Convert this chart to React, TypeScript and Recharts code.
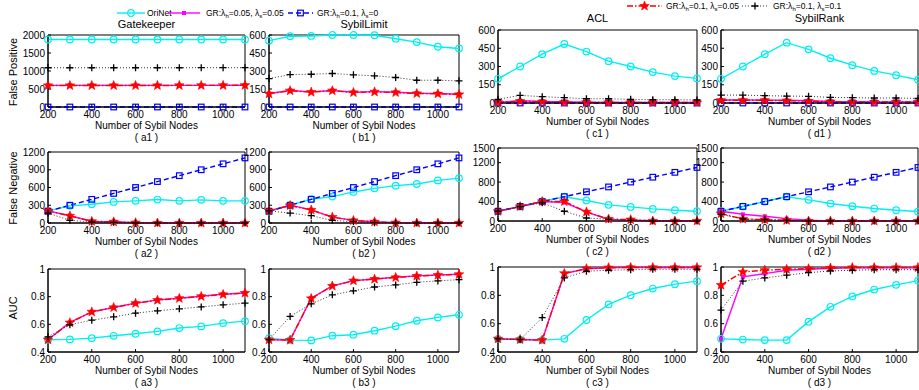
import { LineChart, Line, XAxis, YAxis, ReferenceArea } from "recharts";

const FONT = '"Liberation Sans", Arial, Helvetica, sans-serif';

// x values shared by every panel
const sybilNodes = [200, 300, 400, 500, 600, 700, 800, 900, 1000, 1100];
const xTicks = [200, 400, 600, 800, 1000];

const fpTicksGk = [0, 500, 1000, 1500, 2000];
const fpTicks = [0, 150, 300, 450, 600];
const fnTicksLeft = [0, 300, 600, 900, 1200];
const fnTicksRight = [0, 400, 800, 1200, 1500];
const aucTicks = [0.4, 0.6, 0.8, 1];

// ori = OriNet, g55 = GR λh=0.05 λs=0.05, g10 = GR λh=0.1 λs=0,
// g15 = GR λh=0.1 λs=0.05, g11 = GR λh=0.1 λs=0.1
const allSybil = [200, 300, 400, 500, 600, 700, 800, 900, 1000, 1100];
const zeros = [0, 0, 0, 0, 0, 0, 0, 0, 0, 0];

// (a1) Gatekeeper - false positive
const a1Ori = [1875, 1875, 1875, 1875, 1875, 1875, 1875, 1875, 1875, 1875];
const a1G55 = [600, 600, 600, 600, 600, 600, 602, 602, 603, 605];
const a1G15 = [598, 598, 598, 598, 598, 598, 600, 600, 601, 603];
const a1G11 = [1090, 1090, 1090, 1090, 1090, 1090, 1090, 1092, 1092, 1092];

// (b1) SybilLimit - false positive
const b1Ori = [553, 590, 592, 600, 600, 598, 569, 541, 502, 488];
const b1G55 = [112, 138, 126, 138, 123, 128, 123, 115, 112, 106];
const b1G15 = [110, 136, 124, 136, 121, 126, 121, 113, 110, 104];
const b1G11 = [237, 270, 273, 279, 268, 260, 246, 223, 223, 218];

// (c1) ACL - false positive
const c1Ori = [199, 300, 401, 485, 423, 344, 300, 254, 221, 202];
const c1G55 = [5, 18, 12, 8, 6, 5, 5, 5, 5, 5];
const c1G15 = [5, 15, 10, 6, 5, 4, 4, 4, 4, 4];
const c1G11 = [30, 63, 52, 44, 35, 35, 30, 27, 27, 25];

// (d1) SybilRank - false positive
const d1Ori = [199, 300, 401, 496, 441, 368, 311, 264, 229, 191];
const d1G55 = [25, 25, 24, 22, 18, 12, 10, 8, 8, 8];
const d1G15 = [22, 22, 22, 19, 16, 11, 8, 8, 8, 8];
const d1G11 = [65, 65, 60, 57, 55, 46, 44, 41, 41, 38];

// (a2) Gatekeeper - false negative
const a2Ori = [206, 290, 318, 357, 374, 396, 374, 391, 374, 374];
const a2G55 = [206, 123, 28, 22, 6, 0, 0, 0, 0, 0];
const a2G15 = [206, 120, 28, 20, 5, 0, 0, 0, 0, 0];
const a2G11 = [167, 45, 17, 11, 0, 0, 0, 0, 0, 0];

// (b2) SybilLimit - false negative
const b2Ori = [195, 301, 402, 446, 525, 586, 631, 659, 720, 759];
const b2G55 = [206, 301, 223, 100, 45, 22, 6, 0, 0, 0];
const b2G15 = [206, 295, 220, 100, 42, 20, 5, 0, 0, 0];
const b2G11 = [206, 167, 123, 45, 22, 5, 0, 0, 0, 0];

// (c2) ACL - false negative
const c2Ori = [200, 297, 401, 498, 422, 332, 290, 249, 221, 200];
const c2G55 = [200, 297, 401, 380, 187, 28, 14, 5, 0, 0];
const c2G15 = [200, 297, 401, 401, 187, 41, 28, 0, 0, 0];
const c2G11 = [200, 297, 373, 200, 62, 35, 14, 0, 0, 0];

// (d2) SybilRank - false negative
const d2Ori = [200, 297, 401, 498, 435, 359, 304, 256, 221, 194];
const d2G55 = [200, 138, 97, 48, 14, 0, 0, 0, 0, 0];
const d2G15 = [152, 41, 28, 14, 0, 0, 0, 0, 0, 0];
const d2G11 = [138, 41, 28, 14, 0, 0, 0, 0, 0, 0];

// (a3) Gatekeeper - AUC
const a3Ori = [0.489, 0.491, 0.5, 0.517, 0.532, 0.549, 0.573, 0.585, 0.609, 0.623];
const a3G55 = [0.489, 0.614, 0.69, 0.722, 0.753, 0.777, 0.789, 0.803, 0.818, 0.827];
const a3G15 = [0.489, 0.612, 0.69, 0.722, 0.752, 0.775, 0.788, 0.802, 0.816, 0.826];
const a3G11 = [0.51, 0.597, 0.63, 0.654, 0.681, 0.698, 0.712, 0.726, 0.741, 0.753];

// (b3) SybilLimit - AUC
const b3Ori = [0.5, 0.486, 0.484, 0.518, 0.525, 0.554, 0.587, 0.626, 0.65, 0.669];
const b3G55 = [0.489, 0.486, 0.789, 0.878, 0.916, 0.928, 0.94, 0.95, 0.957, 0.962];
const b3G15 = [0.489, 0.486, 0.787, 0.877, 0.915, 0.927, 0.939, 0.949, 0.956, 0.961];
const b3G11 = [0.489, 0.657, 0.748, 0.813, 0.842, 0.87, 0.885, 0.904, 0.914, 0.923];

// (c3) ACL - AUC
const c3Ori = [0.493, 0.488, 0.484, 0.493, 0.626, 0.736, 0.801, 0.848, 0.879, 0.9];
const c3G55 = [0.493, 0.488, 0.484, 0.953, 0.988, 0.995, 0.997, 0.997, 0.997, 0.997];
const c3G15 = [0.493, 0.488, 0.484, 0.955, 0.988, 0.995, 0.997, 0.997, 0.997, 0.997];
const c3G11 = [0.493, 0.488, 0.643, 0.923, 0.97, 0.977, 0.981, 0.984, 0.984, 0.984];

// (d3) SybilRank - AUC
const d3Ori = [0.493, 0.488, 0.484, 0.484, 0.614, 0.719, 0.792, 0.841, 0.874, 0.904];
const d3G55 = [0.493, 0.93, 0.953, 0.977, 0.984, 0.991, 0.995, 0.995, 0.995, 0.995];
const d3G15 = [0.872, 0.965, 0.977, 0.984, 0.988, 0.993, 0.996, 0.996, 0.996, 0.996];
const d3G11 = [0.696, 0.9, 0.923, 0.942, 0.96, 0.972, 0.977, 0.981, 0.981, 0.981];

type MarkerKind = "circle" | "dot" | "square" | "star" | "plus";

const SERIES: { key: string; color: string; dash?: string; width: number; marker: MarkerKind }[] = [
  { key: "ori", color: "#00F0F0", width: 1.4, marker: "circle" },
  { key: "g55", color: "#FF00FF", width: 1.4, marker: "dot" },
  { key: "g10", color: "#0000FF", dash: "5 3", width: 1.4, marker: "square" },
  { key: "g15", color: "#FF0000", dash: "6 2 1.5 2", width: 1.4, marker: "star" },
  { key: "g11", color: "#333", dash: "1 2", width: 1, marker: "plus" },
];

function starPoints(cx: number, cy: number, ro: number, ri: number) {
  const pts: string[] = [];
  for (let i = 0; i < 10; i++) {
    const r = i % 2 === 0 ? ro : ri;
    const a = -Math.PI / 2 + (i * Math.PI) / 5;
    pts.push(`${cx + r * Math.cos(a)},${cy + r * Math.sin(a)}`);
  }
  return pts.join(" ");
}

function drawMarker(kind: MarkerKind, color: string, cx: number, cy: number, key?: string) {
  switch (kind) {
    case "circle":
      return <circle key={key} cx={cx} cy={cy} r={3.3} fill="none" stroke={color} strokeWidth={1.2} />;
    case "dot":
      return <rect key={key} x={cx - 2} y={cy - 2} width={4} height={4} fill={color} />;
    case "square":
      return <rect key={key} x={cx - 2.8} y={cy - 2.8} width={5.6} height={5.6} fill="none" stroke={color} strokeWidth={1.2} />;
    case "star":
      return <polygon key={key} points={starPoints(cx, cy, 5, 2.1)} fill={color} stroke={color} strokeWidth={0.6} />;
    case "plus":
      return (
        <path key={key} d={`M${cx - 3.5},${cy}H${cx + 3.5}M${cx},${cy - 3.5}V${cy + 3.5}`} stroke="#000" strokeWidth={1.3} />
      );
  }
}

const markerFor = (kind: MarkerKind, color: string) => (props: any) => {
  const { cx, cy, index } = props;
  if (cx == null || cy == null) return <g key={`m${index}`} />;
  return drawMarker(kind, color, cx, cy, `m${index}`);
};

type Panel = {
  id: string;
  left: number;
  top: number;
  w: number;
  h: number;
  yDomain: [number, number];
  yTicks: number[];
  series: Record<string, number[]>;
};

const colA = { left: 48, w: 197 };
const colB = { left: 269, w: 190 };
const colC = { left: 498, w: 199 };
const colD = { left: 721, w: 197 };
const rowsL = [
  { top: 35, h: 72 },
  { top: 152, h: 71 },
  { top: 269, h: 83 },
];
const rowsR = [
  { top: 30, h: 73 },
  { top: 148, h: 73 },
  { top: 267, h: 85 },
];

const panels: Panel[] = [
  { id: "a1", ...colA, ...rowsL[0], yDomain: [0, 2000], yTicks: fpTicksGk, series: { ori: a1Ori, g55: a1G55, g10: zeros, g15: a1G15, g11: a1G11 } },
  { id: "b1", ...colB, ...rowsL[0], yDomain: [0, 600], yTicks: fpTicks, series: { ori: b1Ori, g55: b1G55, g10: zeros, g15: b1G15, g11: b1G11 } },
  { id: "c1", ...colC, ...rowsR[0], yDomain: [0, 600], yTicks: fpTicks, series: { ori: c1Ori, g55: c1G55, g10: zeros, g15: c1G15, g11: c1G11 } },
  { id: "d1", ...colD, ...rowsR[0], yDomain: [0, 600], yTicks: fpTicks, series: { ori: d1Ori, g55: d1G55, g10: zeros, g15: d1G15, g11: d1G11 } },
  { id: "a2", ...colA, ...rowsL[1], yDomain: [0, 1200], yTicks: fnTicksLeft, series: { ori: a2Ori, g55: a2G55, g10: allSybil, g15: a2G15, g11: a2G11 } },
  { id: "b2", ...colB, ...rowsL[1], yDomain: [0, 1200], yTicks: fnTicksLeft, series: { ori: b2Ori, g55: b2G55, g10: allSybil, g15: b2G15, g11: b2G11 } },
  { id: "c2", ...colC, ...rowsR[1], yDomain: [0, 1500], yTicks: fnTicksRight, series: { ori: c2Ori, g55: c2G55, g10: allSybil, g15: c2G15, g11: c2G11 } },
  { id: "d2", ...colD, ...rowsR[1], yDomain: [0, 1500], yTicks: fnTicksRight, series: { ori: d2Ori, g55: d2G55, g10: allSybil, g15: d2G15, g11: d2G11 } },
  { id: "a3", ...colA, ...rowsL[2], yDomain: [0.4, 1], yTicks: aucTicks, series: { ori: a3Ori, g55: a3G55, g15: a3G15, g11: a3G11 } },
  { id: "b3", ...colB, ...rowsL[2], yDomain: [0.4, 1], yTicks: aucTicks, series: { ori: b3Ori, g55: b3G55, g15: b3G15, g11: b3G11 } },
  { id: "c3", ...colC, ...rowsR[2], yDomain: [0.4, 1], yTicks: aucTicks, series: { ori: c3Ori, g55: c3G55, g15: c3G15, g11: c3G11 } },
  { id: "d3", ...colD, ...rowsR[2], yDomain: [0.4, 1], yTicks: aucTicks, series: { ori: d3Ori, g55: d3G55, g15: d3G15, g11: d3G11 } },
];

const tickStyle = { fontSize: 10, fill: "#000", fontFamily: FONT };
const noLabel = () => <g />;

function PanelChart({ p }: { p: Panel }) {
  const padL = 40, padR = 12, padT = 8, padB = 20;
  const keys = SERIES.filter((s) => p.series[s.key]);
  const data = sybilNodes.map((n, i) => {
    const row: Record<string, number> = { n };
    keys.forEach((s) => (row[s.key] = p.series[s.key][i]));
    return row;
  });
  return (
    <div style={{ position: "absolute", left: p.left - padL, top: p.top - padT }}>
      <LineChart
        width={p.w + padL + padR}
        height={p.h + padT + padB}
        data={data}
        margin={{ top: padT, right: padR, bottom: 0, left: 0 }}
      >
        {/* MATLAB style: ticks point inward on all four sides */}
        <XAxis
          dataKey="n"
          type="number"
          domain={[200, 1100]}
          ticks={xTicks}
          interval={0}
          height={padB}
          tick={tickStyle}
          tickLine={{ stroke: "#000" }}
          tickSize={-3}
          tickMargin={7}
          axisLine={{ stroke: "#000" }}
        />
        <XAxis
          xAxisId="top"
          orientation="top"
          dataKey="n"
          type="number"
          domain={[200, 1100]}
          ticks={xTicks}
          interval={0}
          height={0}
          tick={noLabel}
          tickLine={{ stroke: "#000" }}
          tickSize={-3}
          axisLine={false}
        />
        <YAxis
          type="number"
          domain={p.yDomain}
          ticks={p.yTicks}
          interval={0}
          width={padL}
          tick={tickStyle}
          tickLine={{ stroke: "#000" }}
          tickSize={-3}
          tickMargin={6}
          axisLine={{ stroke: "#000" }}
        />
        <YAxis
          yAxisId="right"
          orientation="right"
          type="number"
          domain={p.yDomain}
          ticks={p.yTicks}
          interval={0}
          width={0}
          tick={noLabel}
          tickLine={{ stroke: "#000" }}
          tickSize={-3}
          axisLine={false}
        />
        <ReferenceArea x1={200} x2={1100} y1={p.yDomain[0]} y2={p.yDomain[1]} fill="none" stroke="#000" strokeWidth={1} />
        {keys.map((s) => (
          <Line
            key={s.key}
            type="linear"
            dataKey={s.key}
            stroke={s.color}
            strokeWidth={s.width}
            strokeDasharray={s.dash}
            dot={markerFor(s.marker, s.color)}
            activeDot={false}
            isAnimationActive={false}
          />
        ))}
      </LineChart>
    </div>
  );
}

function Txt({ x, y, size, children, rotate }: { x: number; y: number; size: number; children: any; rotate?: boolean }) {
  return (
    <div
      style={{
        position: "absolute",
        left: x,
        top: y,
        transform: `translate(-50%, -50%)${rotate ? " rotate(-90deg)" : ""}`,
        fontSize: size,
        fontFamily: FONT,
        whiteSpace: "nowrap",
        lineHeight: 1,
        color: "#000",
      }}
    >
      {children}
    </div>
  );
}

function GrLabel({ h, s }: { h: string; s: string }) {
  const sub = { fontSize: 6, verticalAlign: "-2px" } as const;
  return (
    <>
      GR:λ<span style={sub}>h</span>={h}, λ<span style={sub}>s</span>={s}
    </>
  );
}

function LegendItem({ x1, x2, y, textX, s, children }: { x1: number; x2: number; y: number; textX: number; s: (typeof SERIES)[number]; children: any }) {
  const w = x2 - x1;
  return (
    <>
      <svg style={{ position: "absolute", left: x1, top: y - 6 }} width={w} height={12}>
        <line x1={0} y1={6} x2={w} y2={6} stroke={s.color} strokeWidth={s.width} strokeDasharray={s.dash} />
        {drawMarker(s.marker, s.color, w / 2, 6)}
      </svg>
      <div style={{ position: "absolute", left: textX, top: y - 6, height: 12, lineHeight: "12px", fontSize: 8.5, fontFamily: FONT, whiteSpace: "nowrap" }}>
        {children}
      </div>
    </>
  );
}

export default function App() {
  const cols = [colA, colB, colC, colD];
  const titles = ["Gatekeeper", "SybilLimit", "ACL", "SybilRank"];
  const letters = ["a", "b", "c", "d"];
  return (
    <div style={{ position: "absolute", left: 0, top: 0, width: 919, height: 390, background: "#fff", overflow: "hidden" }}>
      {panels.map((p) => (
        <PanelChart key={p.id} p={p} />
      ))}

      {cols.map((c, ci) => {
        const rows = ci < 2 ? rowsL : rowsR;
        const cx = c.left + c.w / 2;
        return (
          <div key={ci}>
            <Txt x={cx} y={ci < 2 ? 24 : 18} size={11}>
              {titles[ci]}
            </Txt>
            {rows.map((r, ri) => (
              <div key={ri}>
                <Txt x={cx} y={r.top + r.h + 19} size={10}>
                  Number of Sybil Nodes
                </Txt>
                <Txt x={cx} y={r.top + r.h + 31} size={10}>
                  {`( ${letters[ci]}${ri + 1} )`}
                </Txt>
              </div>
            ))}
          </div>
        );
      })}

      <Txt x={13} y={72} size={11} rotate>
        False Positive
      </Txt>
      <Txt x={13} y={188} size={11} rotate>
        False Negative
      </Txt>
      <Txt x={13} y={308} size={11} rotate>
        AUC
      </Txt>

      <LegendItem x1={117} x2={145} y={13} textX={147} s={SERIES[0]}>
        OriNet
      </LegendItem>
      <LegendItem x1={168} x2={200} y={13} textX={206} s={SERIES[1]}>
        <GrLabel h="0.05" s="0.05" />
      </LegendItem>
      <LegendItem x1={288} x2={313} y={13} textX={317} s={SERIES[2]}>
        <GrLabel h="0.1" s="0" />
      </LegendItem>
      <LegendItem x1={627} x2={662} y={6} textX={666} s={SERIES[3]}>
        <GrLabel h="0.1" s="0.05" />
      </LegendItem>
      <LegendItem x1={742} x2={768} y={6} textX={773} s={SERIES[4]}>
        <GrLabel h="0.1" s="0.1" />
      </LegendItem>
    </div>
  );
}
